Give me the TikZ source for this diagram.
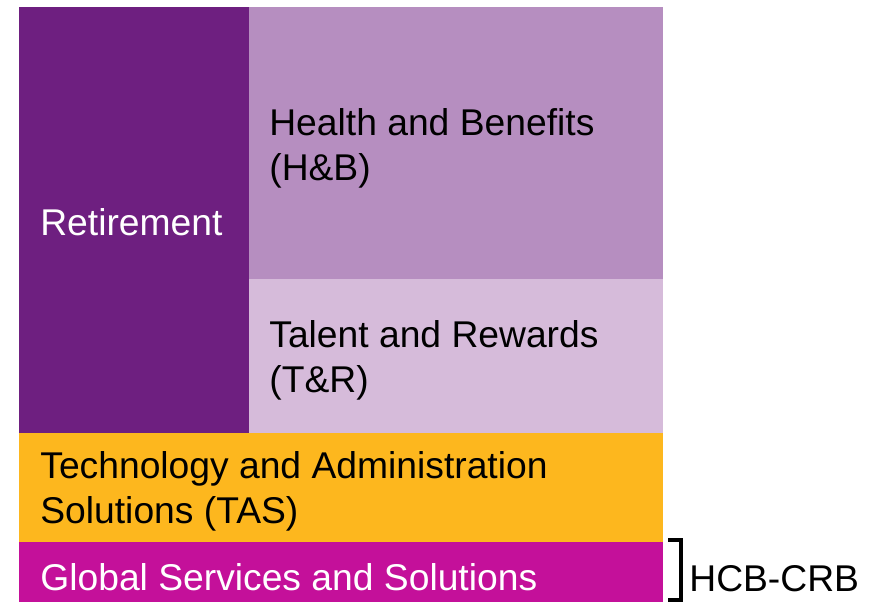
\documentclass[tikz,border=0pt]{standalone}
\usepackage{fontspec}
\setmainfont{Liberation Sans}
\usetikzlibrary{positioning}

\definecolor{retire}{RGB}{110,31,128}
\definecolor{health}{RGB}{182,142,192}
\definecolor{talent}{RGB}{214,187,218}
\definecolor{tas}{RGB}{253,183,30}
\definecolor{gss}{RGB}{196,16,154}

\tikzset{
  lbl/.style={anchor=west, align=left, inner sep=0pt, font=\fontsize{21.2}{25.5}\selectfont},
  whitelbl/.style={lbl, text=white}
}

\begin{document}
\begin{tikzpicture}[x=0.02cm, y=-0.02cm]
\useasboundingbox (0,0) rectangle (871,602);

\fill[color=retire](19,7) rectangle (249,433);
\fill[color=health](249,7) rectangle (663,279);
\fill[color=talent](249,279) rectangle (663,433);
\fill[color=tas](19,433) rectangle (663,542);
\fill[color=gss](19,542) rectangle (663,602);

\node[whitelbl] (ret) at (40,222) {Retirement};
\node[lbl] (hb) at (269,148) {Health and Benefits\\(H\&B)};
\node[lbl] (tr) at (269,360) {Talent and Rewards\\(T\&R)};
\node[lbl] (tas) at (40,491) {Technology and Administration\\Solutions (TAS)};
\node[whitelbl] (gss) at (40,577) {Global Services and Solutions};

\node[lbl] (hcb) at (689,579) {HCB-CRB};
\coordinate (brtop) at (668,540);
\coordinate (brbot) at (668,600);
\draw[color=black, line width=2pt](brtop) -- ++(13,0) |- (brbot);

\end{tikzpicture}
\end{document}
